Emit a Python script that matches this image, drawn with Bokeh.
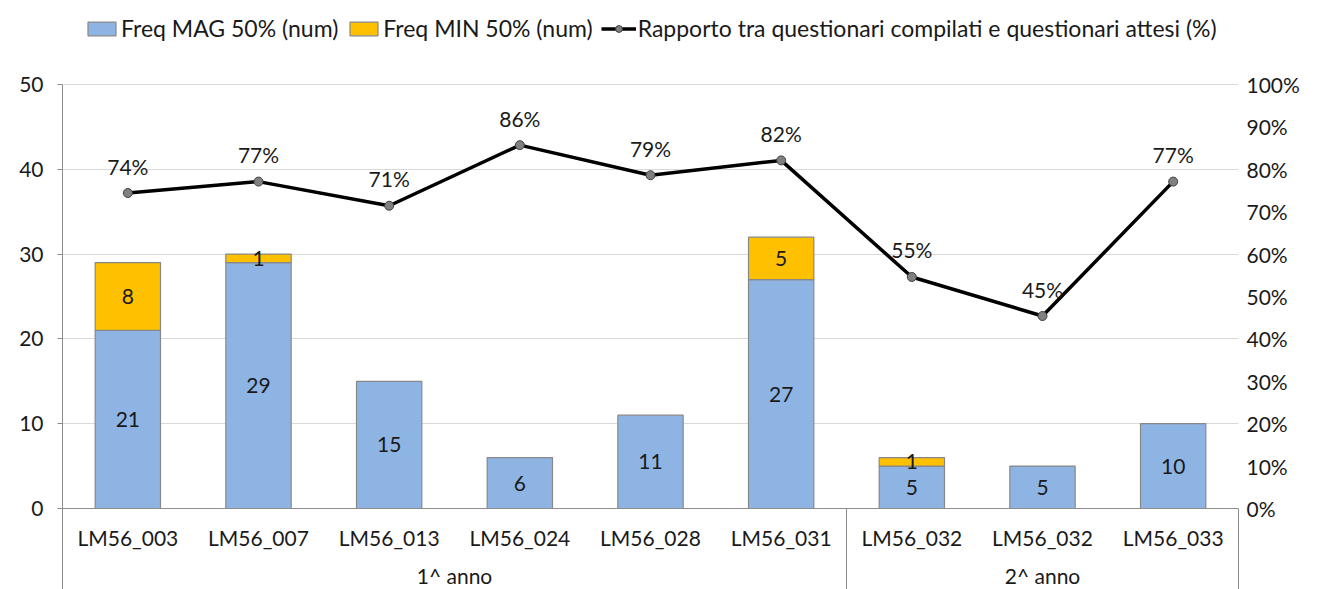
from bokeh.plotting import figure
from bokeh.models import (Range1d, LinearAxis, FixedTicker, ColumnDataSource,
                          Legend, LegendItem)
from bokeh.core.properties import value
from bokeh.embed import file_html
from bokeh.resources import INLINE

categories = ["LM56_003", "LM56_007", "LM56_013", "LM56_024", "LM56_028",
              "LM56_031", "LM56_032", "LM56_032", "LM56_033"]
groups = ["1^ anno", "2^ anno"]
group_sizes = [6, 3]
freq_mag = [21, 29, 15, 6, 11, 27, 5, 5, 10]
freq_min = [8, 1, 0, 0, 0, 5, 1, 0, 0]
rapporto = [74.4, 77.1, 71.4, 85.7, 78.6, 82.1, 54.6, 45.4, 77.1]
left_ticks = [0, 10, 20, 30, 40, 50]
right_ticks = [0, 10, 20, 30, 40, 50, 60, 70, 80, 90, 100]

FONT = "Lato"
FS = "21px"
TXT = "#1a1a1a"
AXIS_GRAY = "#8c8c8c"

n = len(categories)
xs = [i + 0.5 for i in range(n)]

bounds = [0]
for s in group_sizes:
    bounds.append(bounds[-1] + s)
gcenters = [(bounds[i] + bounds[i + 1]) / 2 for i in range(len(groups))]

# frame spans from the page top to the zero line; value axes stop at 50 / 100%
FW, FH = 1176, 508
AX_H = 424  # pixel height of the 0..50 axis
y_top = 50 * FH / AX_H
p = figure(frame_width=FW, frame_height=FH, x_range=Range1d(0, n),
           y_range=Range1d(0, y_top), title=None,
           output_backend="svg", toolbar_location=None,
           min_border_left=62, min_border_right=83, min_border_top=0,
           min_border_bottom=81, outline_line_color=None)
p.extra_y_ranges = {"pct": Range1d(0, 100 * FH / AX_H)}

p.xgrid.grid_line_color = None
p.ygrid.grid_line_color = "#D9D9D9"
p.ygrid.ticker = FixedTicker(ticks=left_ticks)

ya = p.yaxis[0]
ya.bounds = (0, 50)
ya.ticker = FixedTicker(ticks=left_ticks)
ya.axis_line_color = AXIS_GRAY
ya.major_tick_line_color = AXIS_GRAY
ya.major_tick_out = 5
ya.major_tick_in = 0
ya.minor_tick_line_color = None
ya.major_label_text_font = FONT
ya.major_label_text_font_size = FS
ya.major_label_text_color = TXT
ya.major_label_standoff = 14

ra = LinearAxis(y_range_name="pct", ticker=FixedTicker(ticks=right_ticks),
                bounds=(0, 100),
                major_label_overrides={t: f"{t}%" for t in right_ticks})
ra.axis_line_color = None
ra.major_tick_line_color = None
ra.minor_tick_line_color = None
ra.major_tick_out = 0
ra.major_label_text_font = FONT
ra.major_label_text_font_size = FS
ra.major_label_text_color = TXT
ra.major_label_standoff = 8
p.add_layout(ra, "right")

# category axis: minor ticks at group boundaries run down to the bottom
xa = p.xaxis[0]
xa.ticker = FixedTicker(ticks=xs, minor_ticks=bounds)
xa.major_label_overrides = {x: c for x, c in zip(xs, categories)}
xa.axis_line_color = AXIS_GRAY
xa.major_tick_line_color = None
xa.major_tick_out = 0
xa.minor_tick_line_color = AXIS_GRAY
xa.minor_tick_out = 84
xa.minor_tick_in = 0
xa.major_label_text_font = FONT
xa.major_label_text_font_size = FS
xa.major_label_text_color = TXT
xa.major_label_standoff = 16 - 84

ga = LinearAxis(ticker=FixedTicker(ticks=gcenters),
                major_label_overrides={g: t for g, t in zip(gcenters, groups)})
ga.axis_line_color = None
ga.major_tick_line_color = None
ga.minor_tick_line_color = None
ga.major_tick_out = 0
ga.major_label_text_font = FONT
ga.major_label_text_font_size = FS
ga.major_label_text_color = TXT
ga.major_label_standoff = 10
p.add_layout(ga, "below")

src = ColumnDataSource(dict(x=xs, mag=freq_mag,
                            magmid=[m / 2 for m in freq_mag],
                            maglab=[str(m) for m in freq_mag]))
r_mag = p.vbar(x="x", top="mag", bottom=0, width=0.5, source=src,
               fill_color="#8EB4E3", line_color="#888888", line_width=1.2)

mx = [x for x, m in zip(xs, freq_min) if m > 0]
mb = [a for a, m in zip(freq_mag, freq_min) if m > 0]
mt = [a + m for a, m in zip(freq_mag, freq_min) if m > 0]
mmid = [a + m / 2 for a, m in zip(freq_mag, freq_min) if m > 0]
mlab = [str(m) for m in freq_min if m > 0]
r_min = p.vbar(x=mx, top=mt, bottom=mb, width=0.5,
               fill_color="#FFC000", line_color="#888888", line_width=1.2)

p.text(x="x", y="magmid", text="maglab", source=src, text_align="center",
       text_baseline="middle", text_font=value(FONT), text_font_size=FS,
       text_color=TXT)
p.text(x=mx, y=mmid, text=mlab, text_align="center", text_baseline="middle",
       text_font=value(FONT), text_font_size=FS, text_color=TXT)

r_line = p.line(xs, rapporto, y_range_name="pct", line_color="black",
                line_width=3.5)
r_pts = p.scatter(xs, rapporto, y_range_name="pct", size=9,
                  fill_color="#808080", line_color="#404040", line_width=1)
p.text(xs, rapporto, text=[f"{v:.0f}%" for v in rapporto], y_range_name="pct",
       y_offset=-27, text_align="center", text_baseline="middle",
       text_font=value(FONT), text_font_size=FS, text_color=TXT)

legend = Legend(items=[
    LegendItem(label="Freq MAG 50% (num)", renderers=[r_mag]),
    LegendItem(label="Freq MIN 50% (num)", renderers=[r_min]),
    LegendItem(label="Rapporto tra questionari compilati e questionari attesi (%)",
               renderers=[r_line, r_pts]),
], orientation="horizontal", location=(22, FH - 42))
legend.label_text_font = FONT
legend.label_text_font_size = "23px"
legend.label_text_color = TXT
legend.glyph_width = 35
legend.glyph_height = 17
legend.label_standoff = 2
legend.spacing = 8
legend.padding = 0
legend.margin = 0
legend.border_line_color = None
legend.background_fill_alpha = 0
p.add_layout(legend)

open("out.html", "w").write(file_html(p, INLINE))
